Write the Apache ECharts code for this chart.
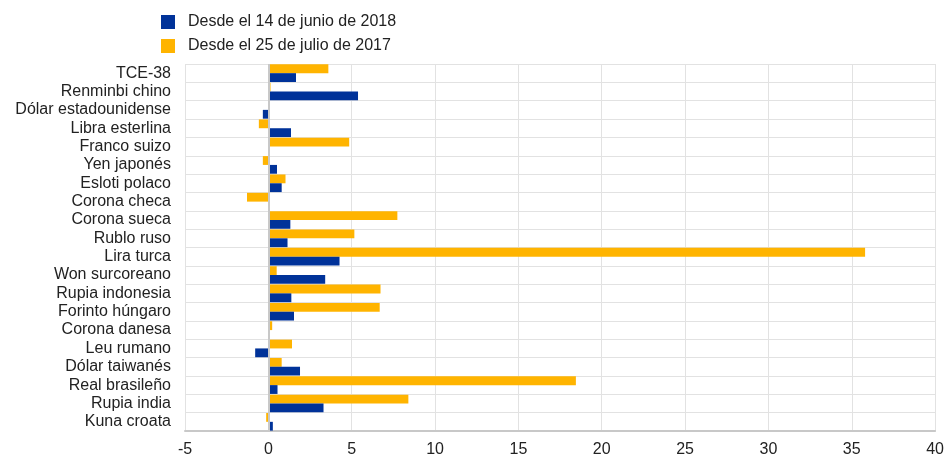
<!DOCTYPE html>
<html><head><meta charset="utf-8">
<script src="https://cdn.jsdelivr.net/npm/echarts@6/dist/echarts.min.js"></script>
<style>html,body{margin:0;padding:0;background:#fff}#c{width:947px;height:459px}</style>
</head><body><div id="c"></div>
<script>
const categories = ["TCE-38","Renminbi chino","Dólar estadounidense","Libra esterlina","Franco suizo","Yen japonés","Esloti polaco","Corona checa","Corona sueca","Rublo ruso","Lira turca","Won surcoreano","Rupia indonesia","Forinto húngaro","Corona danesa","Leu rumano","Dólar taiwanés","Real brasileño","Rupia india","Kuna croata"];
const since2018 = [1.66,5.38,-0.33,1.36,0.1,0.52,0.8,0.1,1.32,1.15,4.27,3.41,1.38,1.54,0.02,-0.79,1.9,0.55,3.31,0.27];
const since2017 = [3.6,0.13,0.0,-0.57,4.85,-0.33,1.03,-1.28,7.74,5.16,35.8,0.5,6.73,6.68,0.23,1.42,0.8,18.45,8.4,-0.13];
const xTicks = {min:-5, max:40, interval:5};
const name2018 = "Desde el 14 de junio de 2018";
const name2017 = "Desde el 25 de julio de 2017";

const chart = echarts.init(document.getElementById('c'), null, {renderer:'canvas'});
const font = '"Liberation Sans", Arial, sans-serif';
chart.setOption({
  animation:false,
  textStyle:{fontFamily:font},
  legend:{
    orient:'vertical', left:156, top:9, itemWidth:14, itemHeight:14, itemGap:8,
    icon:'rect',
    data:[name2018, name2017],
    textStyle:{fontSize:16, color:'#222', fontFamily:font, padding:[0,0,0,8]}
  },
  grid:{left:185, right:11, top:64, bottom:28, containLabel:false},
  xAxis:{
    type:'value', min:xTicks.min, max:xTicks.max, interval:xTicks.interval,
    axisLine:{show:true, onZero:false, lineStyle:{color:'#c8c8c8', width:2}},
    axisTick:{show:false},
    axisLabel:{fontSize:16, color:'#222', margin:11, fontFamily:font},
    splitLine:{show:true, lineStyle:{color:'#e2e2e2', width:1}}
  },
  yAxis:{
    type:'category', data:categories, inverse:true,
    axisLine:{show:false}, axisTick:{show:false, interval:0},
    axisLabel:{fontSize:16, color:'#222', margin:14, fontFamily:font, interval:0},
    splitLine:{show:true, interval:0, lineStyle:{color:'#e2e2e2', width:1}}
  },
  series:[
    {name:name2017, type:'bar', data:since2017, barGap:'0%', barCategoryGap:'4%',
     itemStyle:{color:'#FFB400'},
     markLine:{silent:true, symbol:'none', label:{show:false},
       lineStyle:{color:'#c8c8c8', width:2, type:'solid'}, data:[{xAxis:0}]}},
    {name:name2018, type:'bar', data:since2018, barGap:'0%', barCategoryGap:'4%',
     itemStyle:{color:'#003299'}}
  ]
});
</script></body></html>
